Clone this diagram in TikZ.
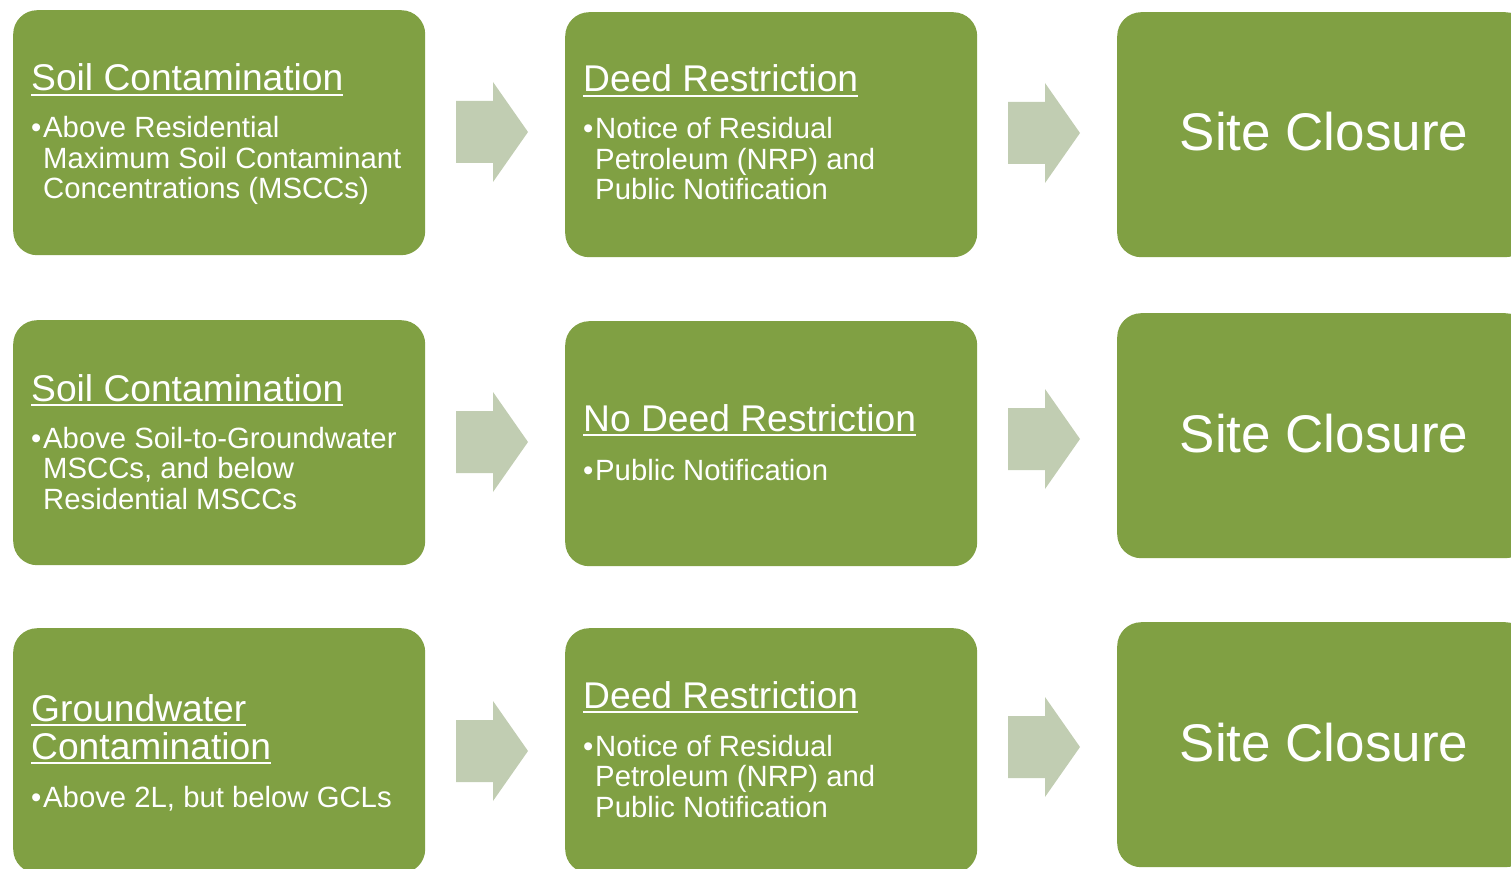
\documentclass[tikz,border=0pt]{standalone}
\usepackage{fontspec}
\setmainfont{Liberation Sans}
\definecolor{boxgreen}{HTML}{80A043}
\definecolor{arrowgreen}{HTML}{C1CDB2}
\newcommand\myul[1]{\sbox0{#1}\rlap{\vrule height -3pt depth 5pt width \wd0}\usebox0}
\newcommand\titlefont{\fontsize{37.2}{38}\selectfont}
\newcommand\bulletfont{\fontsize{29.3}{30.5}\selectfont}
\newcommand\closefont{\fontsize{53}{60}\selectfont}
\newcommand\bul{\makebox[12pt][l]{•}}
\newcommand\ind{\hspace*{12pt}}
\tikzset{
  box/.style={fill=boxgreen, rounded corners=24pt, inner sep=0pt, anchor=north west,
    minimum width=412pt, minimum height=245pt},
  txt/.style={text=white, inner sep=0pt, anchor=base west},
  closetxt/.style={text=white, inner sep=0pt, anchor=base, font=\closefont},
  arrowshape/.style={fill=arrowgreen, draw=none},
}
\newcommand\bigarrow[3]{% name, left x, center y
  \fill[arrowshape] (#2,#3-31) -- (#2+37,#3-31) -- (#2+37,#3-50) -- (#2+72,#3)
    -- (#2+37,#3+50) -- (#2+37,#3+31) -- (#2,#3+31) -- cycle;
  \coordinate (#1) at (#2+36,#3);
}
\begin{document}
\begin{tikzpicture}[x=1pt,y=-1pt]
\useasboundingbox (0,0) rectangle (1511,869);
\clip (0,0) rectangle (1511,869);

% column 1
\node[box] (b11) at (13,10) {};
\node[box] (b21) at (13,320) {};
\node[box] (b31) at (13,628) {};
% column 2
\node[box] (b12) at (565,12) {};
\node[box] (b22) at (565,321) {};
\node[box] (b32) at (565,628) {};
% column 3
\node[box] (b13) at (1117,12) {};
\node[box] (b23) at (1117,313) {};
\node[box] (b33) at (1117,622) {};

% arrows
\bigarrow{a11}{456}{132}
\bigarrow{a21}{456}{442}
\bigarrow{a31}{456}{751}
\bigarrow{a12}{1008}{133}
\bigarrow{a22}{1008}{439}
\bigarrow{a32}{1008}{747}

% texts column 1
\node[txt] (t11) at (31,91) {\titlefont\myul{Soil Contamination}};
\node[txt] (u11) at (31,138) {\bulletfont\begin{tabular}[t]{@{}l@{}}
  \bul Above Residential\\ \ind Maximum Soil Contaminant\\ \ind Concentrations (MSCCs)\end{tabular}};
\node[txt] (t21) at (31,401) {\titlefont\myul{Soil Contamination}};
\node[txt] (u21) at (31,448) {\bulletfont\begin{tabular}[t]{@{}l@{}}
  \bul Above Soil-to-Groundwater\\ \ind MSCCs, and below\\ \ind Residential MSCCs\end{tabular}};
\node[txt] (t31) at (31,721) {\titlefont\myul{Groundwater}};
\node[txt] (t31b) at (31,759) {\titlefont\myul{Contamination}};
\node[txt] (u31) at (31,807) {\bulletfont\bul Above 2L, but below GCLs};

% texts column 2
\node[txt] (t12) at (583,92) {\titlefont\myul{Deed Restriction}};
\node[txt] (u12) at (583,139) {\bulletfont\begin{tabular}[t]{@{}l@{}}
  \bul Notice of Residual\\ \ind Petroleum (NRP) and\\ \ind Public Notification\end{tabular}};
\node[txt] (t22) at (583,431) {\titlefont\myul{No Deed Restriction}};
\node[txt] (u22) at (583,480) {\bulletfont\bul Public Notification};
\node[txt] (t32) at (583,708) {\titlefont\myul{Deed Restriction}};
\node[txt] (u32) at (583,756) {\bulletfont\begin{tabular}[t]{@{}l@{}}
  \bul Notice of Residual\\ \ind Petroleum (NRP) and\\ \ind Public Notification\end{tabular}};

% texts column 3
\node[closetxt] (c1) at (1324,151) {Site Closure};
\node[closetxt] (c2) at (1324,452) {Site Closure};
\node[closetxt] (c3) at (1324,761) {Site Closure};
\end{tikzpicture}
\end{document}
